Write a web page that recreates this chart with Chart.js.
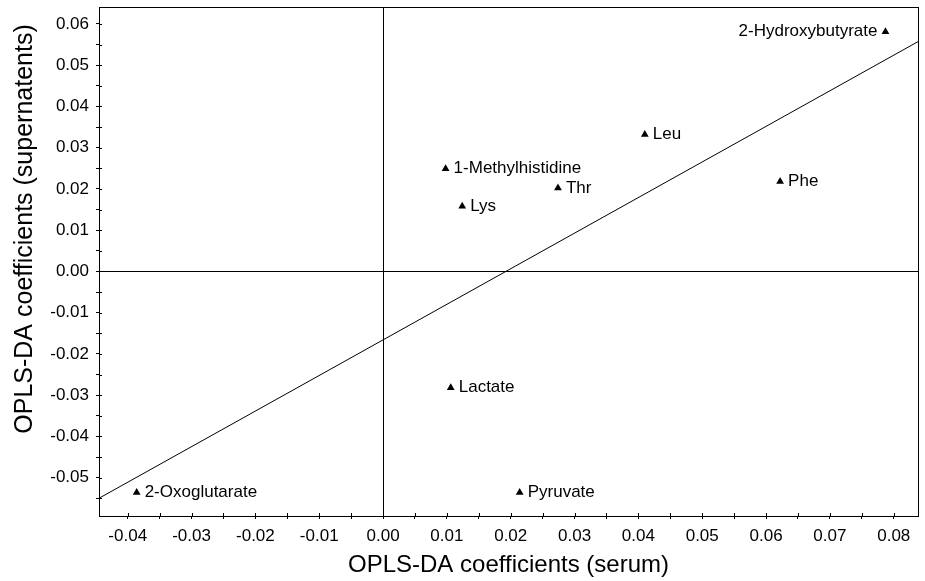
<!DOCTYPE html>
<html>
<head>
<meta charset="utf-8">
<script src="https://cdn.jsdelivr.net/npm/chart.js@4"></script>
<style>
    body { margin: 0; background: #fff; }
    #wrap { width: 925px; height: 581px; }
</style>
</head>
<body>
<div id="wrap"><canvas id="chart" width="925" height="581"></canvas></div>
<script>
// metabolites and their coefficients
const names = ["2-Hydroxybutyrate", "Leu", "1-Methylhistidine", "Thr", "Phe", "Lys", "Lactate", "2-Oxoglutarate", "Pyruvate"];
const serumCoef = [0.0787, 0.0410, 0.0098, 0.0274, 0.0622, 0.0124, 0.0106, -0.0386, 0.0214];
const superCoef = [0.0581, 0.0332, 0.0249, 0.0202, 0.0218, 0.0158, -0.0282, -0.0536, -0.0536];
const labelLeft = ["2-Hydroxybutyrate"];

// fitted line, read at both ends of the x axis
const fitX = [-0.0445, 0.0838];
const fitY = [-0.0550, 0.0557];

const xRange = [-0.0445, 0.0838];
const yRange = [-0.0593, 0.0641];

const FONT = "'Liberation Sans', Arial, Helvetica, sans-serif";

const isZero = v => Math.abs(v) < 1e-9;
const isMajor = v => Math.abs(v * 100 - Math.round(v * 100)) < 1e-6;

// frame, inner tick stubs, point labels and axis titles
const decorPlugin = {
    id: "decor",
    afterDraw(chart) {
        const { ctx, chartArea: a, scales } = chart;
        ctx.save();
        ctx.strokeStyle = "#000";
        ctx.lineWidth = 1;
        ctx.strokeRect(a.left + 0.5, a.top + 0.5, a.right - a.left, a.bottom - a.top);

        ctx.beginPath();
        scales.x.ticks.forEach(t => {
            const px = Math.round(scales.x.getPixelForValue(t.value)) + 0.5;
            ctx.moveTo(px, a.bottom);
            ctx.lineTo(px, a.bottom - 3);
        });
        scales.y.ticks.forEach(t => {
            const py = Math.round(scales.y.getPixelForValue(t.value)) + 0.5;
            ctx.moveTo(a.left, py);
            ctx.lineTo(a.left + 3, py);
        });
        ctx.stroke();

        ctx.fillStyle = "#000";
        ctx.font = "17px " + FONT;
        ctx.textBaseline = "middle";
        names.forEach((name, i) => {
            const px = scales.x.getPixelForValue(serumCoef[i]);
            const py = scales.y.getPixelForValue(superCoef[i]);
            if (labelLeft.includes(name)) {
                ctx.textAlign = "right";
                ctx.fillText(name, px - 8, py);
            } else {
                ctx.textAlign = "left";
                ctx.fillText(name, px + 8, py);
            }
        });

        ctx.font = "24px " + FONT;
        ctx.textAlign = "center";
        ctx.fillText("OPLS-DA coefficients (serum)", (a.left + a.right) / 2, 565);

        ctx.font = "25px " + FONT;
        ctx.translate(25, a.top + 222);
        ctx.rotate(-Math.PI / 2);
        ctx.fillText("OPLS-DA coefficients (supernatents)", 0, 0);
        ctx.restore();
    }
};

const axisTicks = {
    stepSize: 0.005,
    includeBounds: false,
    color: "#000",
    font: { family: FONT, size: 17 },
    padding: 7,
    autoSkip: false,
    maxRotation: 0,
    callback: v => isMajor(v) ? v.toFixed(2) : ""
};

const axisGrid = {
    color: ctx => (ctx.tick && isZero(ctx.tick.value)) ? "#000" : "rgba(0,0,0,0)",
    tickColor: "#000",
    tickLength: 3,
    lineWidth: 1
};

new Chart(document.getElementById("chart"), {
    type: "scatter",
    data: {
        datasets: [
            {
                label: "fit",
                data: fitX.map((x, i) => ({ x: x, y: fitY[i] })),
                showLine: true,
                borderColor: "#000",
                borderWidth: 1,
                pointRadius: 0
            },
            {
                label: "metabolites",
                data: serumCoef.map((x, i) => ({ x: x, y: superCoef[i] })),
                pointStyle: "triangle",
                pointRadius: 4.5,
                backgroundColor: "#000",
                borderColor: "#000",
                borderWidth: 0
            }
        ]
    },
    options: {
        responsive: false,
        animation: false,
        layout: { padding: { left: 39, right: 7, top: 7, bottom: 0 } },
        plugins: {
            legend: { display: false },
            tooltip: { enabled: false }
        },
        scales: {
            x: {
                type: "linear",
                min: xRange[0],
                max: xRange[1],
                ticks: axisTicks,
                grid: axisGrid,
                border: { color: "#000", width: 1 },
                afterFit: scale => {
                    scale.height = 65;
                    scale.paddingLeft = 0;
                    scale.paddingRight = 0;
                }
            },
            y: {
                type: "linear",
                min: yRange[0],
                max: yRange[1],
                ticks: axisTicks,
                grid: axisGrid,
                border: { color: "#000", width: 1 },
                afterFit: scale => {
                    scale.width = 60;
                    scale.paddingTop = 0;
                    scale.paddingBottom = 0;
                }
            }
        }
    },
    plugins: [decorPlugin]
});
</script>
</body>
</html>
